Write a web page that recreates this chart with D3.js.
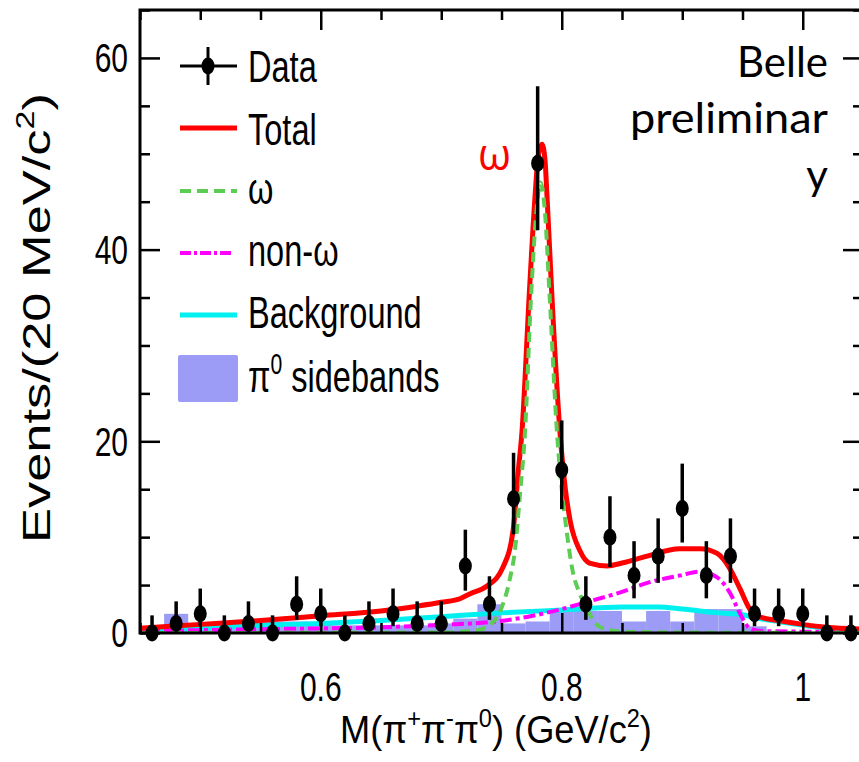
<!DOCTYPE html>
<html><head><meta charset="utf-8">
<script src="https://cdn.jsdelivr.net/npm/d3@7"></script>
<style>body{margin:0;background:#fff}svg{display:block}</style>
</head><body>
<svg id="chart" width="859" height="762"></svg>
<script>
// ---------------- data ----------------
const massBins = [0.46,0.48,0.50,0.52,0.54,0.56,0.58,0.60,0.62,0.64,0.66,0.68,0.70,0.72,0.74,0.76,0.78,0.80,0.82,0.84,0.86,0.88,0.90,0.92,0.94,0.96,0.98,1.00,1.02,1.04];
const dataCounts = [0,1,2,0,1,0,3,2,0,1,2,1,1,7,3,14,49,17,3,10,6,8,13,6,8,2,2,2,0,0];
const errHigh = [1.84,2.30,2.64,1.84,2.30,1.84,2.92,2.64,1.84,2.30,2.64,2.30,2.30,3.78,2.92,4.80,8.05,5.18,2.92,4.27,3.58,3.96,4.67,3.58,3.96,2.64,2.64,2.64,1.84,1.84];
const errLow  = [0,0.83,1.29,0,0.83,0,1.63,1.29,0,0.83,1.29,0.83,0.83,2.58,1.63,3.70,6.98,4.08,1.63,3.11,2.38,2.77,3.56,2.38,2.77,1.29,1.29,1.29,0,0];
const sidebandCounts = [0,2,0.5,0.5,1.2,1.2,1.2,1,0.8,0.8,0.8,0.8,1,1.5,3,1,1.2,2.3,2.3,2.3,1.2,2.3,1.2,2.5,2.5,0.7,0,0,0,0];

const totalCurve = [[0.45,0.5],[0.50,0.9],[0.55,1.3],[0.60,1.8],[0.65,2.3],[0.68,2.8],[0.70,3.2],[0.716,3.6],[0.724,4.1],[0.738,4.9],[0.751,6.8],[0.7596,10.7],[0.764,17],[0.767,21],[0.7729,35],[0.7778,45.5],[0.7805,49.8],[0.7836,51],[0.786,49.5],[0.7878,45.5],[0.7919,35],[0.7985,21],[0.803,15],[0.807,11.7],[0.815,8.6],[0.823,7.3],[0.838,7.0],[0.85,7.3],[0.87,8.0],[0.898,8.8],[0.915,8.8],[0.929,8.3],[0.940,6.6],[0.948,4.6],[0.956,2.5],[0.964,1.7],[0.98,1.3],[1.00,0.9],[1.02,0.6],[1.05,0.4]];
const omegaCurve = [[0.45,0],[0.70,0.05],[0.73,0.3],[0.740,0.8],[0.750,2.6],[0.7565,5.4],[0.7615,9],[0.765,14],[0.7695,21],[0.7745,35],[0.779,44],[0.7825,47],[0.786,44],[0.790,35],[0.796,21],[0.800,15],[0.804,10.7],[0.809,6.5],[0.815,4.1],[0.823,2.0],[0.832,0.6],[0.85,0.15],[0.90,0.05],[1.05,0]];
const nonOmegaCurve = [[0.45,0.2],[0.55,0.4],[0.65,0.6],[0.70,0.85],[0.749,1.25],[0.776,1.8],[0.80,2.5],[0.82,3.2],[0.85,4.3],[0.873,5.3],[0.898,6.0],[0.915,6.4],[0.929,5.8],[0.940,4.1],[0.948,2.0],[0.956,0.5],[0.965,0.2],[1.05,0.1]];
const backgroundCurve = [[0.45,0.3],[0.50,0.5],[0.55,0.8],[0.60,1.0],[0.65,1.3],[0.70,1.7],[0.75,2.1],[0.80,2.4],[0.85,2.7],[0.88,2.7],[0.90,2.5],[0.93,2.1],[0.95,1.9],[0.964,1.5],[0.98,1.2],[1.00,0.8],[1.02,0.5],[1.05,0.3]];

const yTickValues = [0,20,40,60];
const yTickLabels = ['0','20','40','60'];
const xTickValues = [0.6,0.8,1.0];
const xTickLabels = ['0.6','0.8','1'];
const legendLabels = ['Data','Total','ω','non-ω','Background','π0 sidebands'];

// ---------------- setup ----------------
const svg = d3.select('#chart');
const x = d3.scaleLinear().domain([0.45,1.05]).range([140,863]);
const y = d3.scaleLinear().domain([0,65]).range([633,10]);
const binW = 0.02;
const SANS = '"Liberation Sans", Arial, Helvetica, sans-serif';
const COL = {red:'#ff0000', green:'#5ccc52', magenta:'#ff00ff', cyan:'#00f0f0', side:'#9c9cf6'};

svg.append('defs').append('clipPath').attr('id','plotClip')
  .append('rect').attr('x',140).attr('y',10).attr('width',723).attr('height',623);

function richText(t, parts, size){
  let up=false;
  parts.forEach(p=>{
    const isSup = typeof p==='object';
    const ts = t.append('tspan').text(isSup?p.s:p);
    if(isSup){ ts.attr('font-size', size*0.65); if(!up){ ts.attr('dy', -size*0.42); up=true; } }
    else if(up){ ts.attr('dy', size*0.42); up=false; }
  });
}
function label(parent, o){
  const g = parent.append('g');
  const t = g.append('text').attr('text-anchor', o.anchor||'start')
    .attr('font-size', o.size).attr('font-family', o.family||SANS).attr('fill', o.fill||'#000');
  richText(t, o.parts, o.size);
  let sx = o.sx||1;
  if(o.width){ const w = t.node().getBBox().width; if(w>0) sx = o.width/w; }
  g.attr('transform', `translate(${o.x},${o.y}) rotate(${o.rot||0}) scale(${sx},1)`);
  return g;
}

// ---------------- sideband histogram ----------------
const plot = svg.append('g').attr('clip-path','url(#plotClip)');
plot.selectAll('rect.sb').data(massBins.map((m,i)=>({m, v:sidebandCounts[i]})))
  .join('rect').attr('class','sb')
  .attr('x', d=>x(d.m-binW/2)).attr('width', d=>x(d.m+binW/2)-x(d.m-binW/2))
  .attr('y', d=>y(d.v)).attr('height', d=>y(0)-y(d.v))
  .attr('fill', COL.side);

// ---------------- curves ----------------
const line = d3.line().x(d=>x(d[0])).y(d=>y(d[1])).curve(d3.curveMonotoneX);
plot.append('path').datum(backgroundCurve).attr('d',line).attr('fill','none')
  .attr('stroke',COL.cyan).attr('stroke-width',5);
plot.append('path').datum(nonOmegaCurve).attr('d',line).attr('fill','none')
  .attr('stroke',COL.magenta).attr('stroke-width',4).attr('stroke-dasharray','12,4,4,4');
plot.append('path').datum(totalCurve).attr('d',line).attr('fill','none')
  .attr('stroke',COL.red).attr('stroke-width',5).attr('stroke-linejoin','round');
plot.append('path').datum(omegaCurve).attr('d',line).attr('fill','none')
  .attr('stroke',COL.green).attr('stroke-width',4).attr('stroke-dasharray','10,6');

// ---------------- axes (ticks inward) ----------------
const minorY = d3.range(0,66,5).filter(v=>!yTickValues.includes(v));
const minorX = d3.range(0.45,1.051,0.05).map(v=>+v.toFixed(2)).filter(v=>!xTickValues.some(t=>Math.abs(t-v)<1e-6));
function axisG(axisFn, tr){
  const g = svg.append('g').attr('transform',tr).call(axisFn);
  g.select('.domain').remove();
  g.selectAll('line').attr('stroke','#000').attr('stroke-width',2.5);
  return g;
}
axisG(d3.axisLeft(y).tickValues(yTickValues).tickSize(-20).tickFormat(''), 'translate(140,0)');
axisG(d3.axisLeft(y).tickValues(minorY).tickSize(-10).tickFormat(''), 'translate(140,0)');
axisG(d3.axisRight(y).tickValues(yTickValues).tickSize(-20).tickFormat(''), 'translate(863,0)');
axisG(d3.axisRight(y).tickValues(minorY).tickSize(-10).tickFormat(''), 'translate(863,0)');
axisG(d3.axisBottom(x).tickValues(xTickValues).tickSize(-20).tickFormat(''), 'translate(0,633)');
axisG(d3.axisBottom(x).tickValues(minorX).tickSize(-10).tickFormat(''), 'translate(0,633)');
axisG(d3.axisTop(x).tickValues(xTickValues).tickSize(-20).tickFormat(''), 'translate(0,10)');
axisG(d3.axisTop(x).tickValues(minorX).tickSize(-10).tickFormat(''), 'translate(0,10)');
svg.append('rect').attr('x',140).attr('y',10).attr('width',723).attr('height',623)
  .attr('fill','none').attr('stroke','#000').attr('stroke-width',3);

// tick labels
yTickValues.forEach((v,i)=>label(svg,{x:128, y:y(v)+14.3, anchor:'end', size:40, sx:0.75, parts:[yTickLabels[i]]}));
xTickValues.forEach((v,i)=>label(svg,{x:x(v), y:701, anchor:'middle', size:40, sx:0.75, parts:[xTickLabels[i]]}));

// axis titles
label(svg,{x:496, y:743, anchor:'middle', size:39, width:312,
  parts:['M(π',{s:'+'},'π',{s:'-'},'π',{s:'0'},') (GeV/c',{s:'2'},')']});
label(svg,{x:50, y:318, rot:-90, anchor:'middle', size:39, width:450,
  parts:['Events/(20 MeV/c',{s:'2'},')']});

// ---------------- data points ----------------
const pts = svg.append('g');
massBins.forEach((m,i)=>{
  pts.append('line').attr('x1',x(m)).attr('x2',x(m))
    .attr('y1',y(dataCounts[i]+errHigh[i])).attr('y2',y(dataCounts[i]-errLow[i]))
    .attr('stroke','#000').attr('stroke-width',3.5);
});
pts.selectAll('ellipse').data(massBins.map((m,i)=>[m,dataCounts[i]])).join('ellipse')
  .attr('cx',d=>x(d[0])).attr('cy',d=>y(d[1])).attr('rx',6.5).attr('ry',8.5).attr('fill','#000');

// ---------------- legend ----------------
const lg = svg.append('g');
const rowY = [66,128,191,253,315,378];
const lx0 = 180, lx1 = 237;
// Data
lg.append('line').attr('x1',lx0).attr('x2',lx1).attr('y1',rowY[0]).attr('y2',rowY[0]).attr('stroke','#000').attr('stroke-width',3);
lg.append('line').attr('x1',208).attr('x2',208).attr('y1',rowY[0]-19).attr('y2',rowY[0]+19).attr('stroke','#000').attr('stroke-width',3);
lg.append('ellipse').attr('cx',208).attr('cy',rowY[0]).attr('rx',6.5).attr('ry',8.5).attr('fill','#000');
// Total
lg.append('line').attr('x1',lx0).attr('x2',lx1).attr('y1',rowY[1]).attr('y2',rowY[1]).attr('stroke',COL.red).attr('stroke-width',5);
// omega
lg.append('line').attr('x1',lx0).attr('x2',lx1).attr('y1',rowY[2]).attr('y2',rowY[2]).attr('stroke',COL.green).attr('stroke-width',4).attr('stroke-dasharray','11,6');
// non-omega
lg.append('line').attr('x1',lx0).attr('x2',lx1-3).attr('y1',rowY[3]).attr('y2',rowY[3]).attr('stroke',COL.magenta).attr('stroke-width',4).attr('stroke-dasharray','11,3,3,3');
// background
lg.append('line').attr('x1',lx0).attr('x2',lx1).attr('y1',rowY[4]).attr('y2',rowY[4]).attr('stroke',COL.cyan).attr('stroke-width',5);
// sidebands box
lg.append('rect').attr('x',178).attr('y',355).attr('width',60).attr('height',47).attr('rx',2).attr('fill',COL.side);

const lgParts = [['Data'],['Total'],['ω'],['non-ω'],['Background'],['π',{s:'0'},' sidebands']];
const lgBase = [82,145,204,266,328,392];
lgParts.forEach((p,i)=>label(lg,{x:248, y:lgBase[i], size:44, sx:0.74, parts:p}));

// ---------------- annotations ----------------
const CAL = 'Lato, "Open Sans", "Noto Sans", sans-serif';
label(svg,{x:828, y:77, anchor:'end', size:42, family:CAL, parts:['Belle']});
label(svg,{x:828, y:133, anchor:'end', size:42, family:CAL, width:198, parts:['preliminar']});
label(svg,{x:828, y:190, anchor:'end', size:42, family:CAL, parts:['y']});
label(svg,{x:478, y:170, size:44, family:'"Open Sans", "Noto Sans", sans-serif', fill:COL.red, width:33, parts:['ω']});
</script>
</body></html>
